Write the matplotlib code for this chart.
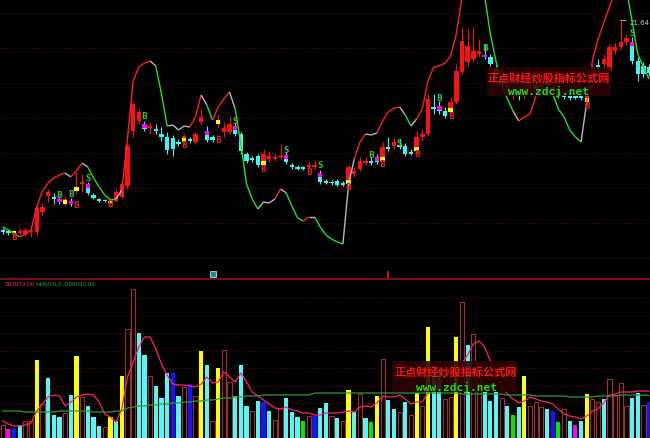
import numpy as np
import matplotlib as mpl
mpl.use("Agg")
import matplotlib.pyplot as plt
from matplotlib.collections import LineCollection
from matplotlib.patches import Rectangle
import matplotlib.transforms as mtransforms

# Daily K-line data (115 sessions)
opens = [
    11.15, 11.10, 11.00, 11.00, 10.95, 11.05, 11.05, 12.05, 12.85, 12.80,
    12.70, 12.45, 12.60, 13.10, 13.45, 13.45, 12.90, 12.70, 12.65, 12.50,
    12.60, 12.80, 13.35, 16.10, 16.60, 16.45, 16.25, 16.20, 15.95, 15.80,
    15.75, 15.55, 15.55, 15.70, 15.55, 16.55, 16.10, 15.80, 16.45, 16.05,
    16.05, 16.35, 15.95, 14.95, 14.75, 14.85, 14.40, 14.70, 14.70, 14.80,
    14.90, 14.40, 14.30, 14.30, 14.30, 14.30, 14.00, 13.60, 13.55, 13.60,
    13.50, 13.45, 13.95, 14.20, 14.50, 14.60, 14.80, 14.60, 15.30, 15.35,
    15.40, 15.35, 15.05, 15.10, 15.80, 15.95, 17.30, 17.35, 17.10, 17.05,
    17.55, 19.05, 19.55, 19.70, 19.95, 19.90, 19.80, 19.20, 18.80, 18.20,
    17.95, 18.10, 17.95, 18.10, 18.40, 18.30, 18.60, 18.30, 18.10, 17.90,
    17.85, 17.85, 17.85, 17.55, 18.80, 19.40, 19.45, 19.10, 20.10, 20.30,
    20.55, 20.55, 19.60, 19.35, 19.30]
closes = [
    11.05, 11.00, 11.10, 11.10, 11.15, 11.10, 12.25, 12.30, 13.05, 12.70,
    12.55, 12.70, 12.45, 13.30, 13.55, 13.00, 12.75, 12.60, 12.60, 12.60,
    13.05, 13.45, 15.35, 17.45, 17.05, 16.20, 16.35, 16.10, 15.80, 15.15,
    15.20, 15.45, 15.85, 15.60, 15.95, 16.80, 15.65, 15.65, 16.65, 16.25,
    16.45, 15.95, 15.10, 14.60, 14.65, 14.40, 14.95, 14.85, 14.80, 14.85,
    14.55, 14.30, 14.20, 14.20, 14.40, 14.40, 13.55, 13.50, 13.50, 13.40,
    13.40, 14.30, 14.10, 14.60, 14.60, 14.50, 14.55, 15.30, 15.20, 15.55,
    15.30, 14.95, 14.95, 15.80, 15.95, 17.70, 17.20, 17.10, 16.85, 17.55,
    19.10, 20.60, 20.35, 20.10, 20.10, 19.80, 19.45, 18.80, 18.45, 18.45,
    18.20, 17.85, 18.30, 18.45, 18.20, 18.70, 18.40, 18.10, 17.85, 17.80,
    17.75, 17.75, 17.75, 17.90, 19.10, 19.20, 19.70, 20.30, 20.30, 20.55,
    20.75, 19.60, 18.95, 18.95, 19.00]
highs = [
    11.25, 11.20, 11.20, 11.25, 11.25, 11.35, 12.35, 12.45, 13.20, 13.00,
    12.80, 12.85, 12.75, 14.05, 13.95, 13.55, 13.00, 12.75, 12.70, 12.70,
    13.20, 13.70, 15.45, 17.55, 17.20, 16.60, 16.55, 16.45, 16.30, 16.05,
    15.90, 15.70, 15.95, 15.80, 16.05, 17.20, 16.35, 15.90, 16.95, 16.55,
    16.85, 16.50, 16.05, 15.05, 14.85, 14.95, 15.20, 15.10, 14.95, 15.45,
    15.05, 14.50, 14.40, 14.35, 14.55, 14.60, 14.15, 13.70, 13.65, 13.70,
    13.60, 14.40, 14.30, 14.80, 14.80, 14.80, 14.95, 15.55, 15.80, 15.80,
    15.70, 15.50, 15.20, 16.10, 16.20, 17.95, 17.95, 17.60, 17.30, 17.80,
    19.45, 21.30, 21.20, 21.30, 20.70, 20.45, 19.95, 19.40, 18.95, 18.60,
    18.40, 18.30, 18.50, 18.70, 18.60, 18.90, 18.80, 18.50, 18.30, 18.10,
    18.00, 17.95, 17.95, 18.10, 19.45, 19.70, 19.95, 20.45, 20.50, 21.64,
    20.90, 20.80, 19.80, 19.55, 19.45]
lows = [
    10.95, 10.90, 10.90, 10.90, 10.85, 10.80, 10.90, 11.85, 12.55, 12.45,
    12.45, 12.35, 12.35, 12.95, 13.05, 12.90, 12.70, 12.55, 12.55, 12.45,
    12.55, 12.75, 13.20, 15.80, 16.45, 16.10, 15.95, 15.95, 15.60, 14.95,
    14.85, 15.35, 15.45, 15.50, 15.45, 16.40, 15.55, 15.55, 16.30, 15.80,
    15.95, 15.85, 14.95, 14.50, 14.55, 14.30, 14.30, 14.55, 14.60, 14.70,
    14.45, 14.20, 14.15, 14.15, 14.20, 14.20, 13.45, 13.45, 13.40, 13.35,
    13.35, 13.35, 13.80, 14.10, 14.40, 14.40, 14.45, 14.55, 15.10, 15.20,
    15.20, 14.85, 14.90, 15.00, 15.60, 15.85, 16.95, 16.95, 16.75, 16.95,
    17.45, 18.95, 19.35, 19.55, 19.80, 19.70, 19.35, 18.60, 18.30, 17.95,
    17.70, 17.65, 17.75, 17.90, 18.05, 18.10, 18.20, 17.95, 17.75, 17.70,
    17.65, 17.70, 17.65, 17.40, 18.45, 18.95, 19.10, 19.00, 19.95, 20.20,
    20.40, 19.45, 18.60, 18.80, 18.85]

# Candles whose body carries a highlight colour
magenta_top = [10, 12, 15, 25, 36, 41, 50, 56, 66, 77, 85, 111]
yellow_bottom = [2, 11, 13, 19, 32, 38, 46, 61, 67, 73, 79, 103]

# Trend line drawn over the candles and its segment colours (r / g / w)
trend = [
    11.30, 11.15, 11.00, 10.80, 10.95, 11.15, 12.30, 13.10, 13.50, 13.75,
    13.90, 14.00, 13.80, 14.10, 14.50, 14.30, 13.75, 13.30, 12.90, 12.65,
    12.70, 13.15, 15.70, 18.60, 19.30, 19.50, 19.60, 19.35, 17.95, 16.35,
    16.40, 16.15, 16.35, 16.30, 16.80, 17.90, 17.40, 16.65, 17.30, 17.70,
    18.05, 17.20, 15.45, 13.45, 12.70, 12.20, 12.55, 12.50, 12.70, 13.20,
    13.00, 12.35, 11.75, 11.60, 11.80, 11.80, 11.30, 10.90, 10.70, 10.55,
    10.45, 13.45, 14.70, 15.55, 15.95, 15.90, 16.00, 16.60, 17.05, 17.25,
    17.30, 16.90, 16.35, 16.70, 17.20, 18.60, 19.30, 19.35, 19.50, 19.85,
    20.95, 22.80, 23.70, 23.95, 23.45, 22.85, 20.95, 19.60, 18.45, 17.70,
    17.10, 16.60, 16.80, 16.95, 17.80, 18.70, 18.80, 17.95, 17.20, 16.80,
    16.15, 15.80, 15.55, 17.55, 19.60, 20.70, 21.50, 22.30, 23.10, 23.70,
    23.20, 21.60, 19.95, 19.30, 18.70]
trend_col = ("ggggrrrrrr" "rrwrrwgggg" "gwrrrrrwgg" "wwwwrrwgrr" "rwggggwwwr"
             "wgggrwgggg" "gwwrrwwrrr" "rwgwrrrrrr" "rrrwgggggg" "gwrrrrwggg"
             "gggwrrrrrw" "wgggg")

# Buy / sell signal letters (index, text, price)
buy_up = [(10, "B", 12.90), (12, "B", 12.95), (15, "S", 13.75), (25, "B", 16.85),
          (41, "S", 16.60), (50, "S", 15.15), (56, "S", 14.40), (65, "B", 14.90),
          (70, "S", 15.50), (77, "B", 17.75), (85, "B", 20.25), (111, "S", 21.00)]
buy_down = [(2, "B", 10.80), (13, "B", 12.40), (19, "B", 12.45), (32, "B", 15.40),
            (38, "B", 15.65), (46, "B", 14.20), (54, "B", 14.05), (61, "B", 13.30),
            (67, "B", 14.45), (73, "B", 14.95), (79, "B", 16.85), (103, "B", 17.35)]
event_teal = [37]
event_red = [68]

# Volume (thousand shares), bar colour codes and the two averages
vol = [
    156, 108, 108, 156, 204, 204, 936, 408, 720, 276,
    252, 300, 516, 984, 492, 384, 252, 144, 132, 252,
    204, 744, 1308, 1788, 1260, 996, 744, 624, 480, 780,
    780, 504, 612, 648, 504, 1044, 876, 204, 840, 1056,
    672, 504, 876, 384, 324, 444, 432, 324, 216, 360,
    480, 312, 252, 204, 264, 264, 360, 420, 264, 240,
    204, 576, 312, 528, 240, 192, 504, 948, 456, 348,
    312, 432, 276, 540, 384, 1332, 864, 840, 468, 492,
    1212, 1632, 1116, 1248, 900, 552, 444, 552, 480, 384,
    276, 372, 744, 384, 432, 372, 348, 324, 192, 348,
    204, 156, 204, 528, 468, 432, 468, 708, 516, 660,
    384, 480, 540, 396, 432]
vol_col = ("bmBcbbybcc" "cbcybcccby" "cybbccbccc" "BcbBbycbyb" "bcccbcBcbb"
           "cccgbBccbc" "bycbcgybcc" "bcbybyccbb" "ybcbbcccbc" "gcybbbcBgb"
           "cmcybbcbbb" "bccbB")
mavol1 = [
    204, 168, 144, 144, 156, 180, 324, 408, 492, 516,
    504, 384, 432, 492, 516, 528, 516, 432, 288, 252,
    192, 348, 732, 912, 1092, 1212, 1212, 1068, 888, 756,
    648, 636, 636, 624, 612, 648, 732, 660, 672, 792,
    732, 672, 780, 672, 552, 504, 456, 408, 360, 348,
    372, 336, 324, 300, 300, 276, 276, 300, 300, 300,
    312, 324, 312, 372, 384, 372, 420, 504, 492, 492,
    516, 468, 408, 432, 432, 540, 612, 684, 732, 768,
    804, 900, 996, 1128, 1164, 1092, 924, 768, 624, 528,
    468, 420, 444, 492, 468, 444, 432, 408, 348, 288,
    264, 252, 228, 264, 324, 348, 420, 516, 528, 552,
    552, 552, 564, 564, 562]
mavol2 = [
    324, 324, 324, 324, 312, 312, 312, 312, 312, 312,
    324, 324, 324, 324, 324, 324, 312, 312, 312, 312,
    324, 324, 360, 372, 384, 384, 396, 396, 408, 408,
    420, 420, 432, 432, 444, 444, 456, 456, 468, 480,
    480, 492, 492, 504, 504, 504, 516, 516, 516, 516,
    516, 516, 516, 516, 516, 540, 540, 540, 540, 540,
    540, 540, 540, 540, 540, 540, 540, 540, 540, 540,
    540, 540, 540, 540, 540, 540, 540, 540, 540, 540,
    540, 528, 528, 528, 528, 528, 528, 528, 528, 516,
    516, 516, 516, 516, 504, 504, 504, 504, 504, 504,
    492, 492, 492, 492, 492, 504, 504, 504, 504, 516,
    516, 516, 516, 516, 509]
mavol1_label = "562073.00"
mavol2_label = "MAVOL2: 508933.03"

RED = "#ff1010"
CYAN = "#40f4f4"
LINE_COLS = {"r": "#ff2020", "g": "#22e022", "w": "#b8b8b8"}
VOL_COLS = {"c": "#55f6f6", "y": "#ffff00", "B": "#1414ff", "m": "#ff00ff", "g": "#00e800"}
GRID = "#420808"

fig = plt.figure(figsize=(6.5, 4.39), dpi=100, facecolor="black")
axp = fig.add_axes([0, 1 - 279 / 439, 1, 279 / 439], facecolor="black")
axv = fig.add_axes([0, 0, 1, 159 / 439], facecolor="black")

x = np.arange(len(opens))
o = np.array(opens)
c = np.array(closes)
for ax in (axp, axv):
    ax.set_xlim(-0.48, 114.16)
    ax.tick_params(left=False, bottom=False, labelleft=False, labelbottom=False)
    for s in ax.spines.values():
        s.set_visible(False)
    ax.grid(axis="y", color=GRID, ls=(0, (1.5, 1.5)), lw=0.7)
    ax.set_axisbelow(True)

### Price panel ###
axp.set_ylim(8.75, 22.70)
axp.set_yticks([9.75, 11.5, 13.25, 15.0, 16.75, 18.5, 20.25, 22.0])

up = c >= o
cols = np.where(up, RED, CYAN)
body_lo = np.minimum(o, c)
body_h = np.maximum(np.abs(c - o), 0.05)
axp.vlines(x, lows, highs, colors=cols, lw=0.8, zorder=2)
axp.bar(x, body_h, bottom=body_lo, width=0.78, color=cols, lw=0, zorder=3)
for i in magenta_top:
    h = min(0.18, body_h[i])
    axp.bar(i, h, bottom=body_lo[i] + body_h[i] - h, width=0.78, color="#ff00ff", lw=0, zorder=4)
for i in yellow_bottom:
    h = min(0.22, body_h[i])
    axp.bar(i, h, bottom=body_lo[i], width=0.78, color="#ffff00", lw=0, zorder=4)

segs = [[(k - 1, trend[k - 1]), (k, trend[k])] for k in range(1, len(trend))]
lc = LineCollection(segs, colors=[LINE_COLS[ch] for ch in trend_col[1:]], lw=1.0, zorder=5)
axp.add_collection(lc)

for i, t, p in buy_up:
    axp.text(i, p, t, color="#3cb43c", fontsize=5.5, ha="center", va="center", fontweight="bold", zorder=6)
for i, t, p in buy_down:
    axp.text(i, p, t, color="#d82020", fontsize=5.5, ha="center", va="center", fontweight="bold", zorder=6)

# highest price marker
imax = int(np.argmax(highs))
axp.annotate(f"{highs[imax]:.2f}", xy=(imax, highs[imax]), xytext=(6, -1.5),
             textcoords="offset points", color="#c8c8c8", fontsize=5, va="center",
             arrowprops=dict(arrowstyle="-", color="#c8c8c8", lw=0.6, shrinkA=0, shrinkB=0))

# event markers at the foot of the price panel
trans = mtransforms.blended_transform_factory(axp.transData, axp.transAxes)
for i in event_teal:
    axp.plot(i, 0.013, marker="s", ms=4.5, mfc="#2a8c8c", mec="#9ee6e6", mew=0.6, transform=trans, clip_on=False)
for i in event_red:
    axp.plot([i, i], [0.0, 0.02], color="#e02020", lw=1.2, transform=trans, clip_on=False)

### Volume panel ###
axv.set_ylim(0, 1908)
axv.set_yticks([210, 420, 630, 840, 1050, 1260, 1470, 1680])
axv.spines["top"].set_visible(True)
axv.spines["top"].set_color("#7a1010")
axv.spines["top"].set_linewidth(1.4)

v = np.array(vol)
codes = np.array(list(vol_col))
hollow = codes == "b"
axv.bar(x[hollow], v[hollow], width=0.74, facecolor="black", edgecolor="#a03030", lw=0.8, zorder=2)
for code, colr in VOL_COLS.items():
    m = codes == code
    axv.bar(x[m], v[m], width=0.74, color=colr, lw=0, zorder=2)
axv.plot(x, mavol1, color="#ff2070", lw=0.9, zorder=3)
axv.plot(x, mavol2, color="#2e9a2e", lw=0.9, zorder=3)

fig.text(4.5 / 650, 1 - 284 / 439, mavol1_label, color="#ff2060", fontsize=4.6,
         va="center", family="Liberation Sans")
fig.text(36.5 / 650, 1 - 284 / 439, mavol2_label, color="#2ea02e", fontsize=4.6,
         va="center", family="Liberation Sans")

### Watermarks ###
def watermark(x0, y0, w, h, cx, ry, gy):
    fig.add_artist(Rectangle((x0 / 650, 1 - (y0 + h) / 439), w / 650, h / 439,
                             transform=fig.transFigure, facecolor="#2e0404", alpha=0.9,
                             lw=0, zorder=10))
    fig.text(cx / 650, 1 - ry / 439, "正点财经炒股指标公式网", color="#ff1414", fontsize=8,
             ha="center", va="center", family=["Noto Sans CJK SC", "DejaVu Sans"],
             fontweight="bold", zorder=11)
    fig.text(cx / 650, 1 - gy / 439, "www.zdcj.net", color="#18e018", fontsize=8,
             ha="center", va="center", family="DejaVu Sans Mono", fontweight="bold", zorder=11)

watermark(487, 68, 124, 29, 549, 79, 91)
watermark(392, 362, 125, 31, 456, 373, 387)

fig.savefig("out.png", dpi=100, facecolor="black")
